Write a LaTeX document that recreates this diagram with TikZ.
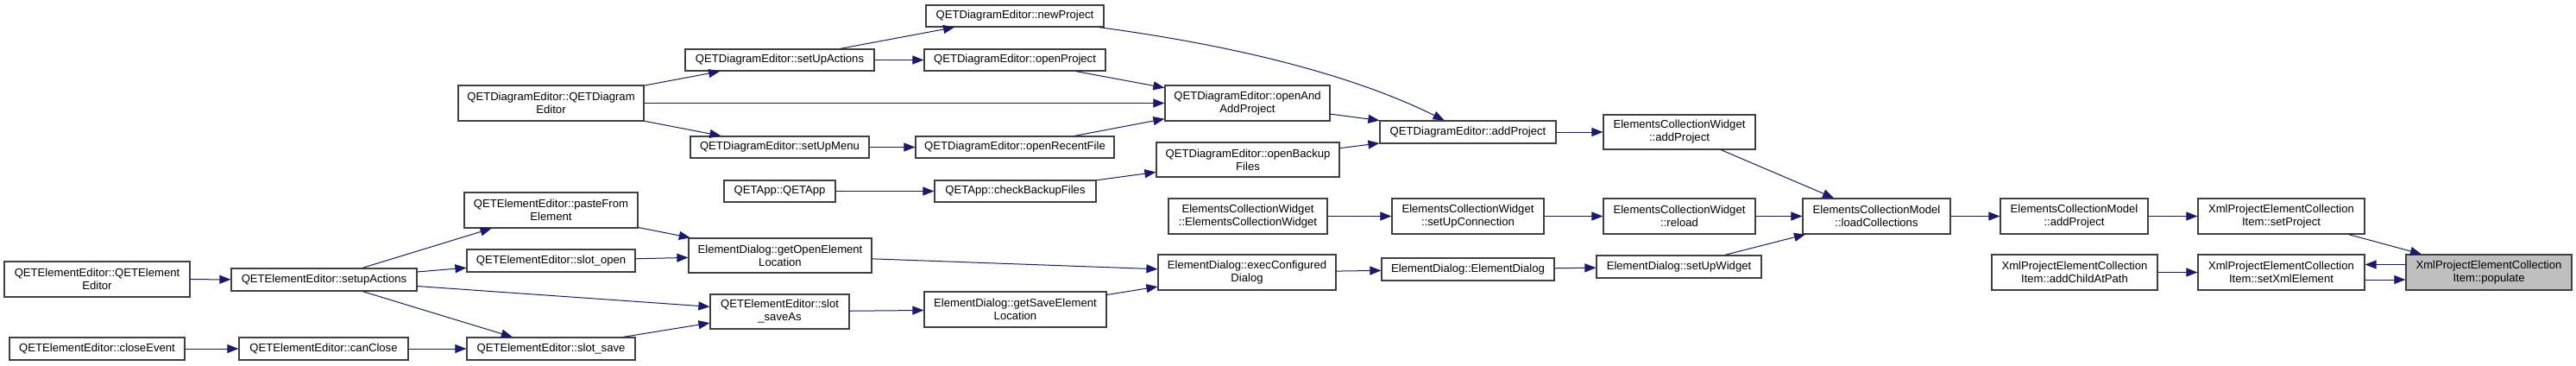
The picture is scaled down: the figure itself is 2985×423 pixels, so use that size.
\documentclass[tikz,border=0pt]{standalone}
\usepackage{fontspec}
\setmainfont{Liberation Sans}
\usetikzlibrary{arrows.meta,calc}
\definecolor{edgec}{HTML}{191970}
\definecolor{boxc}{HTML}{404040}
\definecolor{hlfill}{HTML}{BFBFBF}
\tikzset{
  fnbox/.style={draw=boxc, line width=1.2pt, fill=white, inner sep=0pt, align=center,
    font=\fontsize{13.1pt}{15pt}\selectfont, text=black},
  call/.style={draw=edgec, line width=1pt, -{Triangle[length=13pt,width=10pt]}},
}
\newcommand\dbox[7][]{\node[fnbox,#1,minimum width={#5-#3},minimum height={#6-#4}] (#2) at ({(#3+#5)/2},{(#4+#6)/2}) {#7};}
\begin{document}
\begin{tikzpicture}[x=1pt,y=-1pt]
\fill[white] (0,0) rectangle (2985,423);
\useasboundingbox (0,0) rectangle (2985,423);
% QETDiagramEditor group
\dbox{dnp}{1073}{6}{1279}{31}{QETDiagramEditor::newProject}
\dbox{dsua}{794}{57}{1013}{82}{QETDiagramEditor::setUpActions}
\dbox{dop}{1071}{57}{1281}{82}{QETDiagramEditor::openProject}
\dbox{dctor}{531}{99}{746}{140}{QETDiagramEditor::QETDiagram\\Editor}
\dbox{doaap}{1350}{99}{1541}{140}{QETDiagramEditor::openAnd\\AddProject}
\dbox{dsum}{800}{158}{1007}{183}{QETDiagramEditor::setUpMenu}
\dbox{dorf}{1061}{158}{1291}{183}{QETDiagramEditor::openRecentFile}
\dbox{dap}{1599}{140}{1803}{166}{QETDiagramEditor::addProject}
\dbox{wap}{1858}{133}{2034}{173}{ElementsCollectionWidget\\::addProject}
\dbox{dobf}{1340}{165}{1552}{205}{QETDiagramEditor::openBackup\\Files}
\dbox{app}{839}{209}{968}{234}{QETApp::QETApp}
\dbox{cbf}{1083}{209}{1270}{234}{QETApp::checkBackupFiles}
\dbox{wctor}{1354}{230}{1538}{271}{ElementsCollectionWidget\\::ElementsCollectionWidget}
\dbox{wsuc}{1613}{230}{1789}{271}{ElementsCollectionWidget\\::setUpConnection}
\dbox{wrl}{1858}{230}{2034}{271}{ElementsCollectionWidget\\::reload}
\dbox{mlc}{2089}{230}{2260}{271}{ElementsCollectionModel\\::loadCollections}
\dbox{map}{2318}{230}{2489}{271}{ElementsCollectionModel\\::addProject}
\dbox{isp}{2547}{230}{2740}{271}{XmlProjectElementCollection\\Item::setProject}
\dbox{iac}{2308}{295}{2500}{336}{XmlProjectElementCollection\\Item::addChildAtPath}
\dbox{isx}{2547}{295}{2740}{336}{XmlProjectElementCollection\\Item::setXmlElement}
\dbox[fill=hlfill]{ipop}{2788}{295}{2980}{336}{XmlProjectElementCollection\\Item::populate}
\dbox{ecd}{1342}{295}{1548}{336}{ElementDialog::execConfigured\\Dialog}
\dbox{ector}{1601}{299}{1801}{325}{ElementDialog::ElementDialog}
\dbox{esuw}{1850}{296}{2041}{322}{ElementDialog::setUpWidget}
\dbox{egs}{1071}{338}{1282}{379}{ElementDialog::getSaveElement\\Location}
\dbox{ego}{798}{276}{1010}{316}{ElementDialog::getOpenElement\\Location}
\dbox{ssa}{823}{341}{984}{381}{QETElementEditor::slot\\\_saveAs}
\dbox{pfe}{538}{223}{739}{264}{QETElementEditor::pasteFrom\\Element}
\dbox{so}{541}{289}{736}{315}{QETElementEditor::slot\_open}
\dbox{qctor}{5}{303}{220}{344}{QETElementEditor::QETElement\\Editor}
\dbox{qsa}{268}{311}{483}{337}{QETElementEditor::setupActions}
\dbox{qce}{11}{391}{214}{417}{QETElementEditor::closeEvent}
\dbox{qcc}{277}{391}{473}{417}{QETElementEditor::canClose}
\dbox{ss}{541}{391}{736}{417}{QETElementEditor::slot\_save}
% edges
\draw[call] (dsua) -- (dnp);
\draw[call] (dsua) -- (dop);
\draw[call] (dctor) -- (dsua);
\draw[call] (dctor) -- (doaap);
\draw[call] (dctor) -- (dsum);
\draw[call] (dsum) -- (dorf);
\draw[call] (dop) -- (doaap);
\draw[call] (dorf) -- (doaap);
\draw[call] (dnp) .. controls (1470,58) and (1590,98) .. (dap);
\draw[call] (doaap) -- (dap);
\draw[call] (dobf) -- (dap);
\draw[call] (dap) -- (wap);
\draw[call] (wap) -- (mlc);
\draw[call] (app) -- (cbf);
\draw[call] (cbf) -- (dobf);
\draw[call] (wctor) -- (wsuc);
\draw[call] (wsuc) -- (wrl);
\draw[call] (wrl) -- (mlc);
\draw[call] (esuw) -- (mlc);
\draw[call] (mlc) -- (map);
\draw[call] (map) -- (isp);
\draw[call] (isp) -- (ipop);
\draw[call] ($(ipop.west)+(0,-9)$) -- ($(isx.east)+(0,-9)$);
\draw[call] ($(isx.east)+(0,8.5)$) -- ($(ipop.west)+(0,8.5)$);
\draw[call] (iac) -- (isx);
\draw[call] (ector) -- (esuw);
\draw[call] (ecd) -- (ector);
\draw[call] (ego) -- (ecd);
\draw[call] (egs) -- (ecd);
\draw[call] (ssa) -- (egs);
\draw[call] (qsa) -- (pfe);
\draw[call] (qsa) -- (so);
\draw[call] (qsa) -- (ssa);
\draw[call] (qsa) -- (ss);
\draw[call] (pfe) -- (ego);
\draw[call] (so) -- (ego);
\draw[call] (ss) -- (ssa);
\draw[call] (qctor) -- (qsa);
\draw[call] (qce) -- (qcc);
\draw[call] (qcc) -- (ss);
\end{tikzpicture}
\end{document}
